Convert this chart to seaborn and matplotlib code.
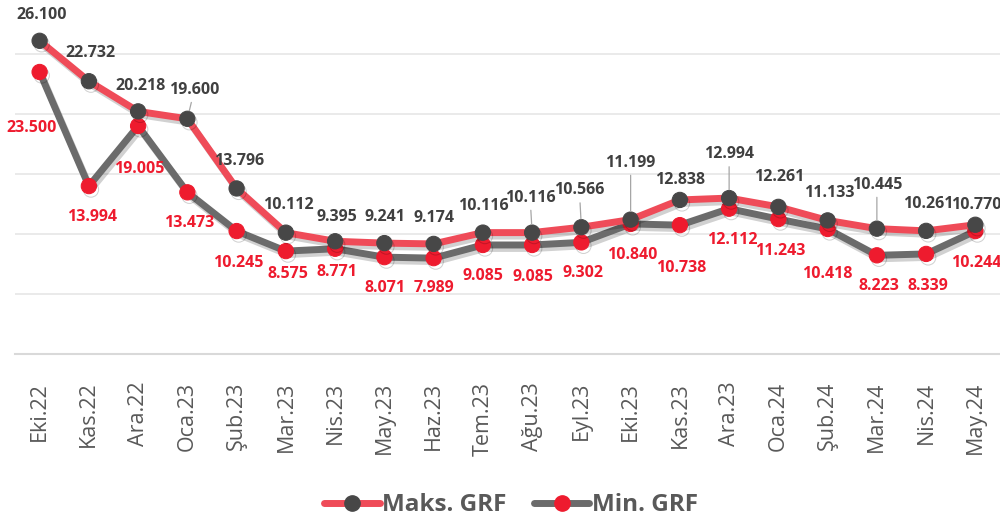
import numpy as np
import pandas as pd
import matplotlib
matplotlib.use("Agg")
import matplotlib.pyplot as plt
import matplotlib.patheffects as pe
from matplotlib.lines import Line2D
import seaborn as sns

# Data
months = ['Eki.22', 'Kas.22', 'Ara.22', 'Oca.23', 'Şub.23', 'Mar.23', 'Nis.23', 'May.23',
          'Haz.23', 'Tem.23', 'Ağu.23', 'Eyl.23', 'Eki.23', 'Kas.23', 'Ara.23', 'Oca.24',
          'Şub.24', 'Mar.24', 'Nis.24', 'May.24']
maks_grf = [26.100, 22.732, 20.218, 19.600, 13.796, 10.112, 9.395, 9.241, 9.174, 10.116,
            10.116, 10.566, 11.199, 12.838, 12.994, 12.261, 11.133, 10.445, 10.261, 10.770]
min_grf = [23.500, 13.994, 19.005, 13.473, 10.245, 8.575, 8.771, 8.071, 7.989, 9.085,
           9.085, 9.302, 10.840, 10.738, 12.112, 11.243, 10.418, 8.223, 8.339, 10.244]

# label offsets (pixels, +y is down like on screen)
maks_off = [(2, -26), (2, -28), (2, -25), (7, -29), (2, -27), (2, -28), (2, -24), (1, -26),
            (0, -26), (0, -27), (-2, -35), (-2, -37), (0, -57), (0, -20), (0, -44), (1, -30),
            (2, -27), (0, -44), (2, -27), (1, -20)]
min_off = [(-8, 56), (3, 31), (1, 43), (2, 31), (2, 32), (2, 23), (2, 23), (1, 31),
           (0, 30), (0, 31), (1, 32), (2, 31), (2, 31), (1, 43), (3, 31), (2, 32),
           (0, 45), (2, 31), (2, 32), (1, 32)]
maks_leader = [3, 10, 11, 12, 14, 17]

RED_LINE = '#EF4B58'
RED_MARK = '#EE1B2E'
GRAY_LINE = '#6B6B6B'
GRAY_MARK = '#474747'
TXT = '#595959'

df = pd.DataFrame({'x': np.arange(len(months)), 'maks': maks_grf, 'min': min_grf})

sns.set_style("white")
plt.rcParams['font.family'] = ['Open Sans', 'DejaVu Sans']

fig = plt.figure(figsize=(10, 5.21), dpi=100)
ax = fig.add_axes([0.015, 1 - 354 / 521, 0.985, 354 / 521])

# soft drop shadow like the original
shadow = [pe.SimpleLineShadow(offset=(1.5, -2.5), shadow_color='black', alpha=0.18), pe.Normal()]

sns.lineplot(data=df, x='x', y='min', ax=ax, color=GRAY_LINE, lw=5, marker='o',
             markersize=11, markerfacecolor=RED_MARK, markeredgecolor=RED_MARK,
             path_effects=shadow, zorder=3)
sns.lineplot(data=df, x='x', y='maks', ax=ax, color=RED_LINE, lw=5, marker='o',
             markersize=11, markerfacecolor=GRAY_MARK, markeredgecolor=GRAY_MARK,
             path_effects=shadow, zorder=4)

ax.set_xlim(-0.5, len(months) - 0.5)
ax.set_ylim(0, 29.5)
ax.set_yticks([0, 5, 10, 15, 20, 25])
ax.yaxis.grid(True, color='#E8E8E8', lw=1.3)
ax.set_axisbelow(True)
ax.set_yticklabels([])
ax.tick_params(axis='y', length=0)
for s in ['top', 'right', 'left']:
    ax.spines[s].set_visible(False)
ax.spines['bottom'].set_color('#D9D9D9')
ax.spines['bottom'].set_linewidth(1.5)

ax.set_xticks(df['x'])
ax.set_xticklabels(months, rotation=90, fontsize=15.5, color=TXT, va='top')
ax.tick_params(axis='x', length=0, pad=20)
ax.set_xlabel('')
ax.set_ylabel('')

def fmt(v):
    return f"{v:.3f}"

for i, v in enumerate(maks_grf):
    dx, dy = maks_off[i]
    kw = {}
    if i in maks_leader:
        kw['arrowprops'] = dict(arrowstyle='-', color='#A6A6A6', lw=0.9, shrinkA=1, shrinkB=6)
    ax.annotate(fmt(v), (i, v), xytext=(dx, -dy), textcoords='offset pixels',
                ha='center', va='center', fontsize=11.5, fontweight='bold', color='#404040',
                zorder=6, **kw)

for i, v in enumerate(min_grf):
    dx, dy = min_off[i]
    ax.annotate(fmt(v), (i, v), xytext=(dx, -dy), textcoords='offset pixels',
                ha='center', va='center', fontsize=11.5, fontweight='bold', color=RED_MARK,
                zorder=6)

handles = [
    Line2D([], [], color=RED_LINE, lw=5, marker='o', markersize=11,
           markerfacecolor=GRAY_MARK, markeredgecolor=GRAY_MARK, solid_capstyle='round'),
    Line2D([], [], color=GRAY_LINE, lw=5, marker='o', markersize=11,
           markerfacecolor=RED_MARK, markeredgecolor=RED_MARK, solid_capstyle='round'),
]
leg = fig.legend(handles, ['Maks. GRF', 'Min. GRF'], loc='center', bbox_to_anchor=(0.511, 0.03),
                 ncol=2, frameon=False, handlelength=2.3, handletextpad=0.1, columnspacing=1.1,
                 borderpad=0.1, prop={'size': 17.5, 'weight': 'bold'})
for t in leg.get_texts():
    t.set_color(TXT)

fig.savefig('out.png', dpi=100)
